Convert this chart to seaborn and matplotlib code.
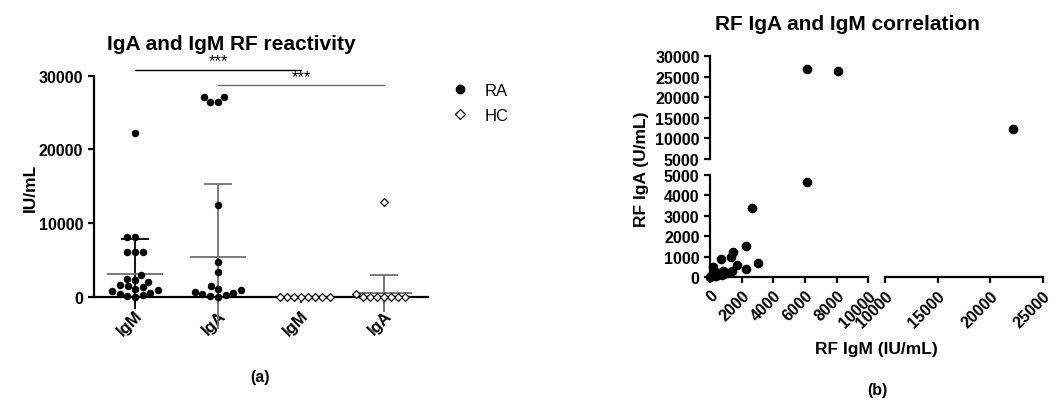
import numpy as np
import pandas as pd
import matplotlib
matplotlib.use("Agg")
import matplotlib.pyplot as plt
import seaborn as sns
from matplotlib.lines import Line2D

# ---------------- data: panel (a) ----------------
categories = ["RA IgM", "RA IgA", "HC IgM", "HC IgA"]
tick_labels = ["IgM", "IgA", "IgM", "IgA"]
ra_igm = [22200, 8200, 8200, 6150, 6150, 6150, 3000, 2500, 2300, 2000, 1600,
          1450, 1300, 1100, 900, 750, 550, 400, 250, 120, 30]
ra_iga = [27100, 27100, 26450, 26450, 12450, 4750, 3450, 1550, 1150, 900, 700,
          500, 350, 220, 120, 40]
hc_igm = [20, 10, 15, 5, 30, 10, 25, 0]
hc_iga = [12850, 450, 60, 40, 30, 20, 10, 5, 0]
group_means = [3120, 5470, 15, 500]
group_sds = [4700, 9800, 10, 2530]
bar_colors = ["black", "#707070", "#707070", "#707070"]
sig_pairs = [(0, 2), (1, 3)]
sig_heights = [30800, 28700]
sig_labels = ["***", "***"]
sig_colors = ["black", "#707070"]

# ---------------- data: panel (b) ----------------
rf_igm = [6150, 8100, 22150, 6150, 2670, 2270, 3010, 2300, 1430, 1300, 700, 1680,
          210, 1370, 840, 530, 110, 740, 1050, 320, 0, 60, 400, 900]
rf_iga = [26900, 26350, 12390, 4660, 3400, 1520, 700, 400, 1240, 1000, 890, 600,
          520, 330, 290, 210, 130, 100, 210, 50, 0, 40, 80, 250]

sns.set_style("ticks")
plt.rcParams["font.family"] = ["Liberation Sans", "DejaVu Sans"]
plt.rcParams["text.color"] = "black"
plt.rcParams["axes.labelcolor"] = "black"
plt.rcParams["axes.linewidth"] = 1.6
plt.rcParams["xtick.major.width"] = 1.6
plt.rcParams["ytick.major.width"] = 1.6
plt.rcParams["xtick.major.size"] = 4
plt.rcParams["ytick.major.size"] = 4
plt.rcParams["xtick.color"] = "black"
plt.rcParams["ytick.color"] = "black"
plt.rcParams["axes.edgecolor"] = "black"

W, H = 1057, 402
fig = plt.figure(figsize=(W / 100, H / 100), dpi=100)


def frac(x0, y0, x1, y1):
    return [x0 / W, 1 - y1 / H, (x1 - x0) / W, (y1 - y0) / H]


TICK_FS = 11.5

# ================= panel (a) =================
ax = fig.add_axes(frac(93.5, 76.7, 428, 298))
ax.set_xlim(-0.5, 3.53)
ax.set_ylim(0, 30000)

df_ra = pd.DataFrame({"cat": ["RA IgM"] * len(ra_igm) + ["RA IgA"] * len(ra_iga),
                      "value": ra_igm + ra_iga})
df_hc = pd.DataFrame({"cat": ["HC IgM"] * len(hc_igm) + ["HC IgA"] * len(hc_iga),
                      "value": hc_igm + hc_iga})

pos = np.arange(len(categories))
m = np.array(group_means)
s = np.array(group_sds)
for i in range(len(categories)):
    ax.vlines(pos[i], m[i] - s[i], m[i] + s[i], color=bar_colors[i], lw=1.3, zorder=2)
    ax.hlines(m[i] + s[i], pos[i] - 0.17, pos[i] + 0.17, color=bar_colors[i], lw=1.3, zorder=2)
    ax.hlines(m[i], pos[i] - 0.34, pos[i] + 0.34, color="#707070", lw=1.3, zorder=2)

sns.swarmplot(data=df_ra, x="cat", y="value", order=categories, color="black",
              size=5.4, ax=ax, zorder=3, warn_thresh=1)
sns.swarmplot(data=df_hc, x="cat", y="value", order=categories, marker="D",
              color="white", edgecolor="black", linewidth=0.9, size=4.0, ax=ax,
              zorder=3, warn_thresh=1)
for c in ax.collections:
    c.set_clip_on(False)
ax.set_xlim(-0.5, 3.53)
ax.set_ylim(0, 30000)

for (a, b), hgt, lab, col in zip(sig_pairs, sig_heights, sig_labels, sig_colors):
    ax.plot([a, b], [hgt, hgt], color=col, lw=1.0, clip_on=False)
    ax.text((a + b) / 2, hgt + 200, lab, ha="center", va="bottom", fontsize=12, color="black")

ax.set_yticks([0, 10000, 20000, 30000])
ax.set_xticks(pos)
ax.set_xticklabels(tick_labels, rotation=45, ha="right", rotation_mode="anchor")
for t in ax.get_xticklabels() + ax.get_yticklabels():
    t.set_fontweight("bold")
    t.set_fontsize(TICK_FS)
for t in ax.get_xticklabels():
    t.set_fontsize(12)
ax.set_xlabel("")
ax.set_ylabel("")
sns.despine(ax=ax)

fig.text(231 / W, 1 - 44 / H, "IgA and IgM RF reactivity", ha="center", va="center",
         fontsize=15, fontweight="bold")
fig.text(30 / W, 1 - 188 / H, "IU/mL", rotation=90, ha="center", va="center",
         fontsize=12.5, fontweight="bold")
fig.text(260 / W, 1 - 378 / H, "(a)", ha="center", va="center", fontsize=11.5,
         fontweight="bold")

handles = [Line2D([], [], marker="o", ls="", color="black", markersize=6),
           Line2D([], [], marker="D", ls="", mfc="white", mec="black", mew=0.9, markersize=4.8)]
fig.legend(handles, ["RA", "HC"], loc="center left", bbox_to_anchor=(437 / W, 1 - 104 / H),
           frameon=False, fontsize=12, handlelength=1.0, handletextpad=0.95, labelspacing=0.6)

# ================= panel (b) =================
x_seg = [(710, 868.3, 0, 10000), (885, 1042.7, 10000, 25000)]
y_seg = [(57.3, 160, 5000, 30000), (175.7, 278.3, 0, 5000)]
df_b = pd.DataFrame({"igm": rf_igm, "iga": rf_iga})

for ri, (yt, yb, ylo, yhi) in enumerate(y_seg):
    for ci, (xl, xr, xlo, xhi) in enumerate(x_seg):
        axb = fig.add_axes(frac(xl, yt, xr, yb))
        sub = df_b[(df_b.igm >= xlo) & (df_b.igm <= xhi) & (df_b.iga >= ylo) & (df_b.iga <= yhi)]
        sns.scatterplot(data=sub, x="igm", y="iga", color="black", s=48, edgecolor="black",
                        linewidth=0, ax=axb, clip_on=False, legend=False)
        axb.set_xlim(xlo, xhi)
        axb.set_ylim(ylo, yhi)
        axb.set_xlabel("")
        axb.set_ylabel("")
        for sp in ["top", "right"]:
            axb.spines[sp].set_visible(False)
        if ci == 0:
            if ri == 0:
                axb.set_yticks([5000, 10000, 15000, 20000, 25000, 30000])
            else:
                axb.set_yticks([0, 1000, 2000, 3000, 4000, 5000])
        else:
            axb.spines["left"].set_visible(False)
            axb.set_yticks([])
        if ri == 1:
            if ci == 0:
                axb.set_xticks([0, 2000, 4000, 6000, 8000, 10000])
            else:
                axb.set_xticks([10000, 15000, 20000, 25000])
            axb.set_xticklabels([str(v) for v in axb.get_xticks().astype(int)],
                                rotation=45, ha="right", rotation_mode="anchor")
        else:
            axb.spines["bottom"].set_visible(False)
            axb.set_xticks([])
        for t in axb.get_xticklabels() + axb.get_yticklabels():
            t.set_fontweight("bold")
            t.set_fontsize(TICK_FS)
        axb.patch.set_alpha(0)

fig.text(847 / W, 1 - 25 / H, "RF IgA and IgM correlation", ha="center", va="center",
         fontsize=15, fontweight="bold")
fig.text(642 / W, 1 - 169 / H, "RF IgA (U/mL)", rotation=90, ha="center", va="center",
         fontsize=12.5, fontweight="bold")
fig.text(876 / W, 1 - 350 / H, "RF IgM (IU/mL)", ha="center", va="center",
         fontsize=12.5, fontweight="bold")
fig.text(877 / W, 1 - 391 / H, "(b)", ha="center", va="center", fontsize=11.5,
         fontweight="bold")

fig.savefig("out.png", dpi=100)
